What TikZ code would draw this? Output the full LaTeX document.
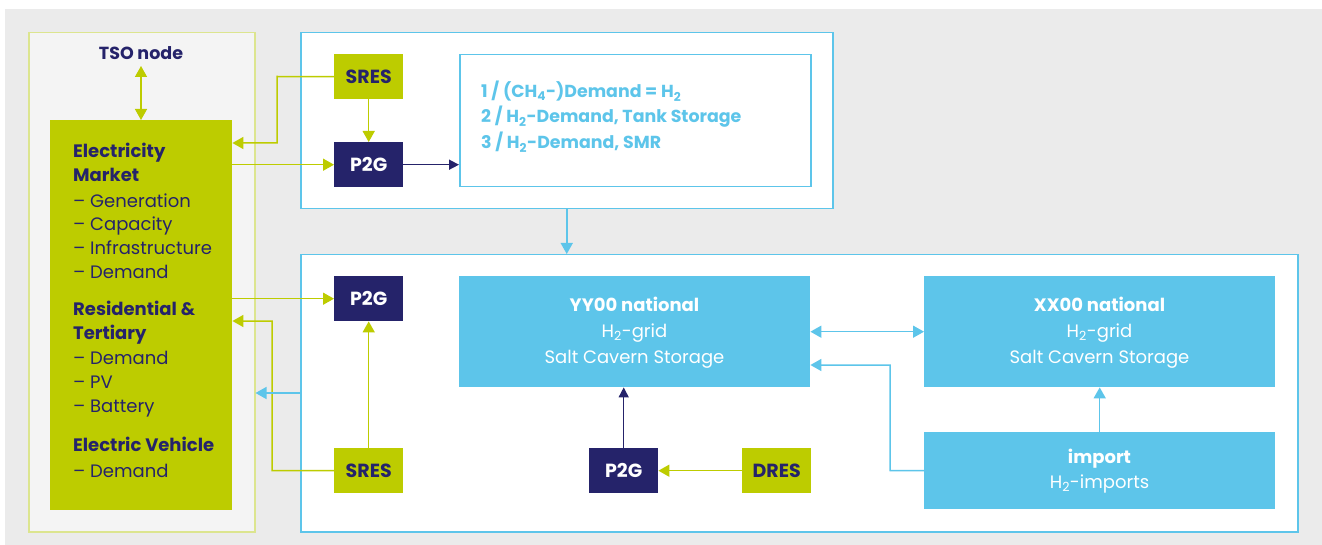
\documentclass[tikz,border=0pt]{standalone}
\usepackage{fontspec}
\setmainfont{Poppins}
\usetikzlibrary{arrows.meta}
\definecolor{lime}{HTML}{BDCC00}
\definecolor{navy}{HTML}{25236A}
\definecolor{sky}{HTML}{5DC5EA}
\definecolor{bggray}{HTML}{EBEBEB}
\definecolor{panelfill}{HTML}{F4F4F4}
\definecolor{panelline}{HTML}{DCE58F}
\tikzset{
  box/.style={rectangle, inner sep=0pt, anchor=north west},
  gbox/.style={box, fill=lime},
  nbox/.style={box, fill=navy},
  bbox/.style={box, fill=sky},
  frame/.style={box, draw=sky, line width=1.5pt, fill=white},
  lbl/.style={inner sep=0pt, font=\fontsize{18}{20}\selectfont},
  lblb/.style={inner sep=0pt, font=\fontsize{18}{20}\selectfont\bfseries},
  ltxt/.style={lbl, anchor=base west, text=navy},
  ltxtb/.style={lblb, anchor=base west, text=navy},
  ctxt/.style={lbl, anchor=base, text=white},
  ctxtb/.style={lblb, anchor=base, text=white},
  tbtxt/.style={inner sep=0pt, anchor=base west, text=sky, font=\fontsize{17.4}{20}\selectfont\bfseries},
  boxlbl/.style={inner sep=0pt, font=\fontsize{19}{20}\selectfont\bfseries},
  garr/.style={draw=lime, line width=1.5pt, -{Triangle[length=11pt,width=12pt]}},
  barr/.style={draw=sky, line width=1.5pt, -{Triangle[length=11pt,width=12pt]}},
  narr/.style={draw=navy, line width=1.5pt, -{Triangle[length=10pt,width=10pt]}},
}
\begin{document}
\begin{tikzpicture}[x=1pt,y=-1pt]
\useasboundingbox (0,0) rectangle (1322,545);
\fill[bggray] (5,9) rectangle (1322,545);
% left panel
\node[box, draw=panelline, line width=1.5pt, fill=panelfill, minimum width=226pt, minimum height=499pt] (panel) at (28,32) {};
\node[gbox, minimum width=182pt, minimum height=390pt] (em) at (50,120) {};
\node[inner sep=0pt, anchor=base, text=navy, font=\fontsize{17.5}{20}\selectfont\bfseries] (tso) at (141,60) {TSO node};
% left panel texts
\node[ltxtb] (t1) at (73,158) {Electricity};
\node[ltxtb] (t2) at (73,182) {Market};
\node[ltxt] (t3) at (73,208) {– Generation};
\node[ltxt] (t4) at (73,231) {– Capacity};
\node[ltxt] (t5) at (73,255) {– Infrastructure};
\node[ltxt] (t6) at (73,279) {– Demand};
\node[ltxtb] (t7) at (73,315) {Residential \&};
\node[ltxtb] (t8) at (73,339) {Tertiary};
\node[ltxt] (t9) at (73,364) {– Demand};
\node[ltxt] (t10) at (73,388) {– PV};
\node[ltxt] (t11) at (73,412) {– Battery};
\node[ltxtb] (t12) at (73,451) {Electric Vehicle};
\node[ltxt] (t13) at (73,477) {– Demand};
% top frame
\node[frame, minimum width=532pt, minimum height=176pt] (top) at (300,32) {};
\node[box, draw=sky, line width=1.5pt, fill=white, minimum width=351pt, minimum height=132pt] (tb) at (459,54) {};
\node[tbtxt] (l1) at (481,98) {1 / (CH\textsubscript{4}-)Demand = H\textsubscript{2}};
\node[tbtxt] (l2) at (481,123) {2 / H\textsubscript{2}-Demand, Tank Storage};
\node[tbtxt] (l3) at (481,149) {3 / H\textsubscript{2}-Demand, SMR};
\node[gbox, minimum width=69pt, minimum height=45pt] (sresA) at (334,54) {};
\node[boxlbl, text=navy] at (sresA.center) {SRES};
\node[nbox, minimum width=69pt, minimum height=45pt] (pA) at (334,142) {};
\node[boxlbl, text=white] at (pA.center) {P2G};
% bottom frame
\node[frame, minimum width=997pt, minimum height=277pt] (bot) at (300,254) {};
\node[nbox, minimum width=69pt, minimum height=45pt] (pB) at (334,276) {};
\node[boxlbl, text=white] at (pB.center) {P2G};
\node[gbox, minimum width=69pt, minimum height=45pt] (sresB) at (334,448) {};
\node[boxlbl, text=navy] at (sresB.center) {SRES};
\node[nbox, minimum width=69pt, minimum height=45pt] (pC) at (589,448) {};
\node[boxlbl, text=white] at (pC.center) {P2G};
\node[gbox, minimum width=69pt, minimum height=45pt] (dres) at (742,448) {};
\node[boxlbl, text=navy] at (dres.center) {DRES};
\node[bbox, minimum width=351pt, minimum height=111pt] (yy) at (459,276) {};
\node[ctxtb] (yy1) at (634.5,311) {YY00 national};
\node[ctxt] (yy2) at (634.5,337) {H\textsubscript{2}-grid};
\node[ctxt] (yy3) at (634.5,363) {Salt Cavern Storage};
\node[bbox, minimum width=351pt, minimum height=111pt] (xx) at (924,276) {};
\node[ctxtb] (xx1) at (1099.5,311) {XX00 national};
\node[ctxt] (xx2) at (1099.5,337) {H\textsubscript{2}-grid};
\node[ctxt] (xx3) at (1099.5,363) {Salt Cavern Storage};
\node[bbox, minimum width=351pt, minimum height=77pt] (imp) at (924,432) {};
\node[ctxtb] (imp1) at (1099.5,463) {import};
\node[ctxt] (imp2) at (1099.5,488) {H\textsubscript{2}-imports};
% connectors
\coordinate (tsoA) at (141,66);
\draw[garr, {Triangle[length=11pt,width=12pt]}-{Triangle[length=11pt,width=12pt]}] (tsoA) -- (tsoA |- em.north);
\coordinate (sA1) at (277,76.5);
\coordinate (sA2) at (277,143);
\draw[garr] (sresA.west) -- (sA1) -- (sA2) -- (sA2 -| em.east);
\draw[garr] (em.east |- pA.west) -- (pA.west);
\draw[garr] (sresA.south) -- (pA.north);
\draw[narr] (pA.east) -- (pA.east -| tb.west);
\draw[barr] (top.south) -- (top.south |- bot.north);
\draw[garr] (em.east |- pB.west) -- (pB.west);
\draw[garr] (sresB.north) -- (pB.south);
\coordinate (sB1) at (272,470.5);
\coordinate (sB2) at (272,321);
\draw[garr] (sresB.west) -- (sB1) -- (sB2) -- (sB2 -| em.east);
\coordinate (bl) at (300,393);
\draw[barr] (bl) -- (bl -| panel.east);
\draw[narr] (pC.north) -- (pC.north |- yy.south);
\draw[garr] (dres.west) -- (pC.east);
\draw[barr, {Triangle[length=11pt,width=12pt]}-{Triangle[length=11pt,width=12pt]}] (yy.east) -- (xx.west);
\coordinate (iA) at (890,470.5);
\coordinate (iB) at (890,365);
\draw[barr] (imp.west) -- (iA) -- (iB) -- (iB -| yy.east);
\draw[barr] (imp.north) -- (xx.south);
\end{tikzpicture}
\end{document}
